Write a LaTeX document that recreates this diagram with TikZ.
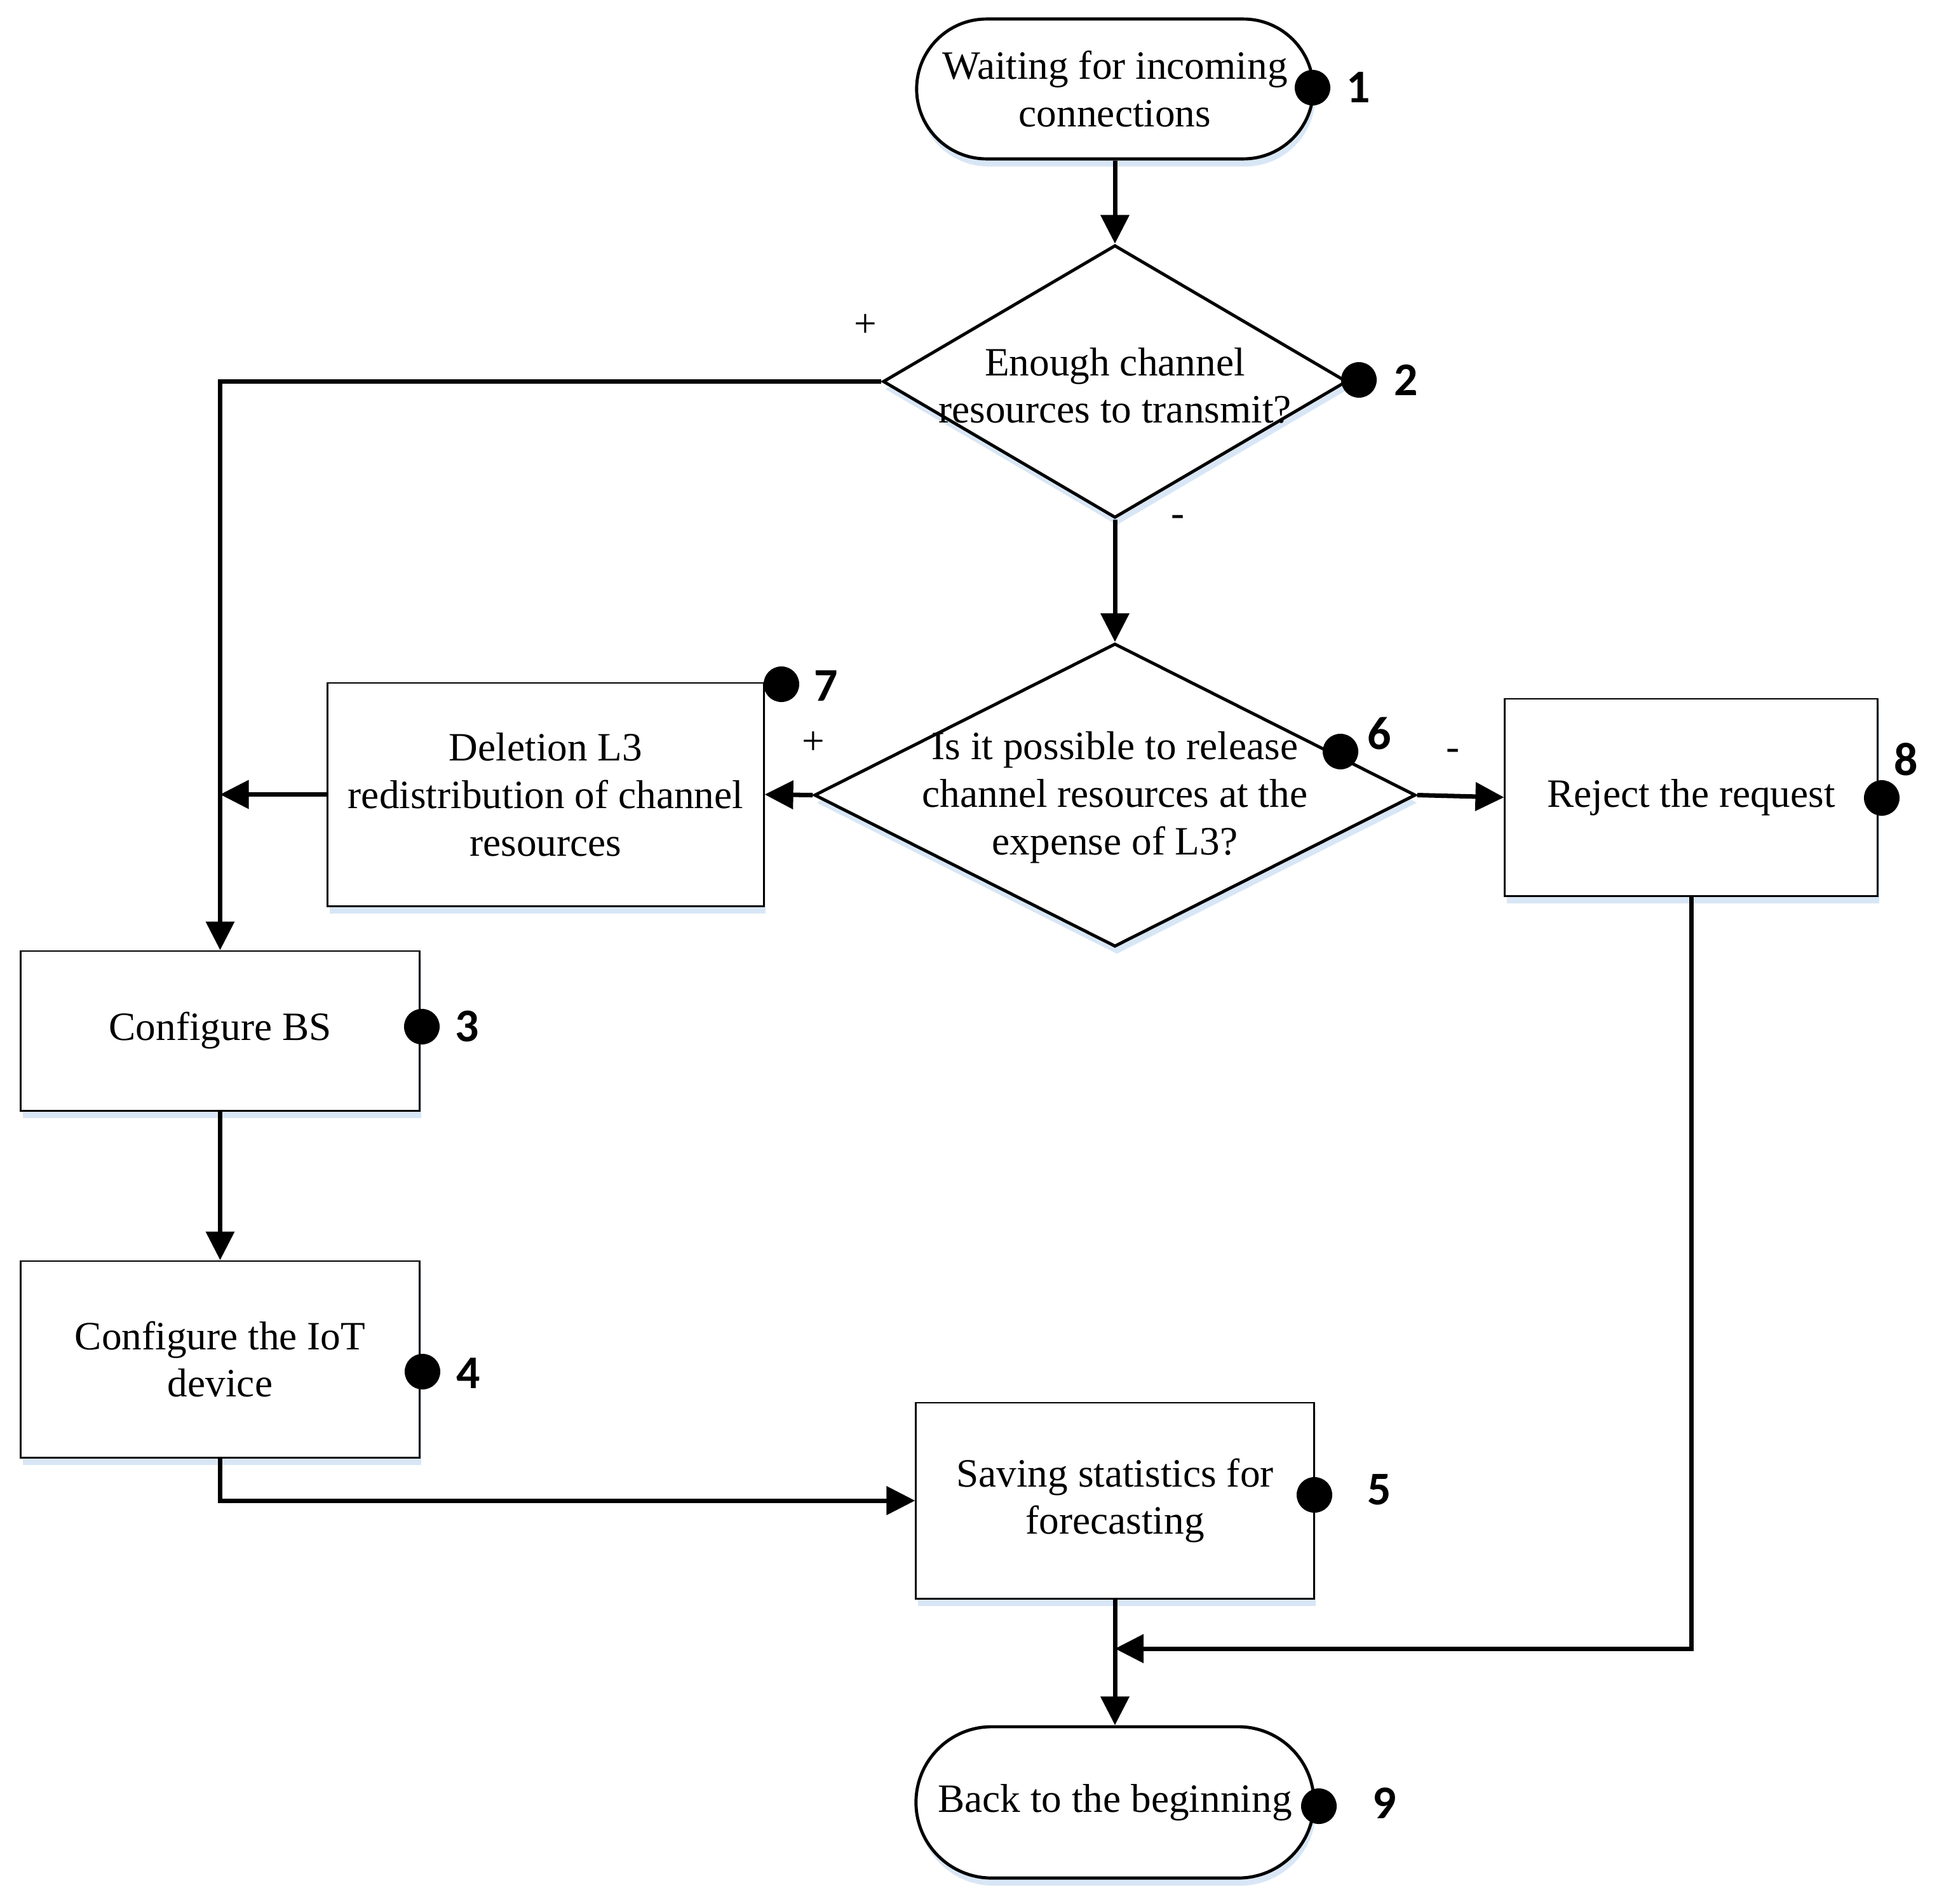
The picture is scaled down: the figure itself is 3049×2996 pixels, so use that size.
\documentclass[tikz,border=0pt]{standalone}
\usepackage{fontspec}
\setmainfont{Liberation Serif}
\newfontfamily\numfont{Carlito}
\usetikzlibrary{arrows.meta,shapes.geometric,shadows}
\definecolor{shadowblue}{RGB}{216,230,245}

\begin{document}
\begin{tikzpicture}[x=0.01cm, y=-0.01cm,
    font=\fontsize{18}{21.3}\selectfont,
    bshadow/.style={drop shadow={shadow xshift=0.03cm, shadow yshift=-0.12cm, fill=shadowblue, opacity=1}},
    box/.style={draw, line width=0.8pt, fill=white, bshadow, align=center, inner sep=0pt},
    term/.style={draw, line width=1.4pt, fill=white, bshadow, rounded corners=#1, align=center, inner sep=0pt},
    decision/.style={draw, diamond, line width=1.4pt, fill=white, bshadow, inner sep=0pt},
    txt/.style={align=center, inner sep=0pt},
    flow/.style={line width=2pt, -{Triangle[length=0.45cm,width=0.44cm]}},
    pointdot/.style={circle, fill=black, inner sep=0pt, minimum size=0.56cm},
    numlabel/.style={font=\numfont\bfseries\fontsize{21}{25}\selectfont, inner sep=0pt},
    signlabel/.style={inner sep=0pt}]

      % page frame
      \useasboundingbox (0,0) rectangle (3049,2996);

      % start and end of the flow
      \node[term=1.1cm, minimum width=6.24cm, minimum height=2.2cm] (t1) at (1755,140) {Waiting for incoming\\connections};
      \node[term=1.19cm, minimum width=6.26cm, minimum height=2.38cm] (t9) at (1755,2837) {Back to the beginning};

      % the two decisions
      \node[decision, minimum width=7.3cm, minimum height=4.29cm] (d2) at (1755,600.5) {};
      \node[txt] (d2txt) at (1755,607) {Enough channel\\resources to transmit?};
      \node[decision, minimum width=9.46cm, minimum height=4.77cm] (d6) at (1755,1251.5) {};
      \node[txt] (d6txt) at (1755,1255) {Is it possible to release\\channel resources at the\\expense of L3?};

      % process boxes
      \node[box, minimum width=6.86cm, minimum height=3.51cm] (b7) at (859,1250.5) {Deletion L3\\redistribution of channel\\resources};
      \node[box, minimum width=5.86cm, minimum height=3.10cm] (b8) at (2662,1255) {Reject the request};
      \node[box, minimum width=6.27cm, minimum height=2.51cm] (b3) at (346.5,1622.5) {Configure BS};
      \node[box, minimum width=6.27cm, minimum height=3.09cm] (b4) at (346.5,2139.5) {Configure the IoT\\device};
      \node[box, minimum width=6.26cm, minimum height=3.08cm] (b5) at (1755,2362) {Saving statistics for\\forecasting};

      % where the reject line meets the main line
      \coordinate (merge) at (1755,2595);

      % connectors
      \draw[flow] (t1.south) -- (d2.north);
      \draw[flow] (d2.west) -| (b3.north); % + branch
      \draw[flow] (d2.south) -- (d6.north); % - branch
      \draw[flow] (d6.west) -- (b7.east); % + branch
      \draw[flow] (b7.west) -- (b7.west -| b3.north);
      \draw[flow] (d6.east) -- (b8.west); % - branch
      \draw[flow] (b3.south) -- (b4.north);
      \draw[flow] (b4.south) |- (b5.west);
      \draw[flow] (b5.south) -- (t9.north);
      \draw[flow] (b8.south) |- (merge);

      % branch signs
      \node[signlabel] (s2p) at (1362,513) {+};
      \node[signlabel] (s2m) at (1854,820) {-};
      \node[signlabel] (s6p) at (1280,1170) {+};
      \node[signlabel] (s6m) at (2287,1188) {-};

      % step markers
      \node[pointdot] (p1) at (2066,138) {};
      \node[pointdot] (p2) at (2139,598) {};
      \node[pointdot] (p3) at (664,1616) {};
      \node[pointdot] (p4) at (665,2159) {};
      \node[pointdot] (p5) at (2069,2353) {};
      \node[pointdot] (p6) at (2110,1183) {};
      \node[pointdot] (p7) at (1230,1077) {};
      \node[pointdot] (p8) at (2962,1256) {};
      \node[pointdot] (p9) at (2076,2843) {};

      % step numbers
      \node[numlabel] (n1) at (2138,138) {1};
      \node[numlabel] (n2) at (2213,598) {2};
      \node[numlabel] (n3) at (735,1616) {3};
      \node[numlabel] (n4) at (737,2161) {4};
      \node[numlabel] (n5) at (2171,2345) {5};
      \node[numlabel] (n6) at (2171,1155) {6};
      \node[numlabel] (n7) at (1300,1080) {7};
      \node[numlabel] (n8) at (3000,1195) {8};
      \node[numlabel] (n9) at (2179,2838) {9};
\end{tikzpicture}
\end{document}
